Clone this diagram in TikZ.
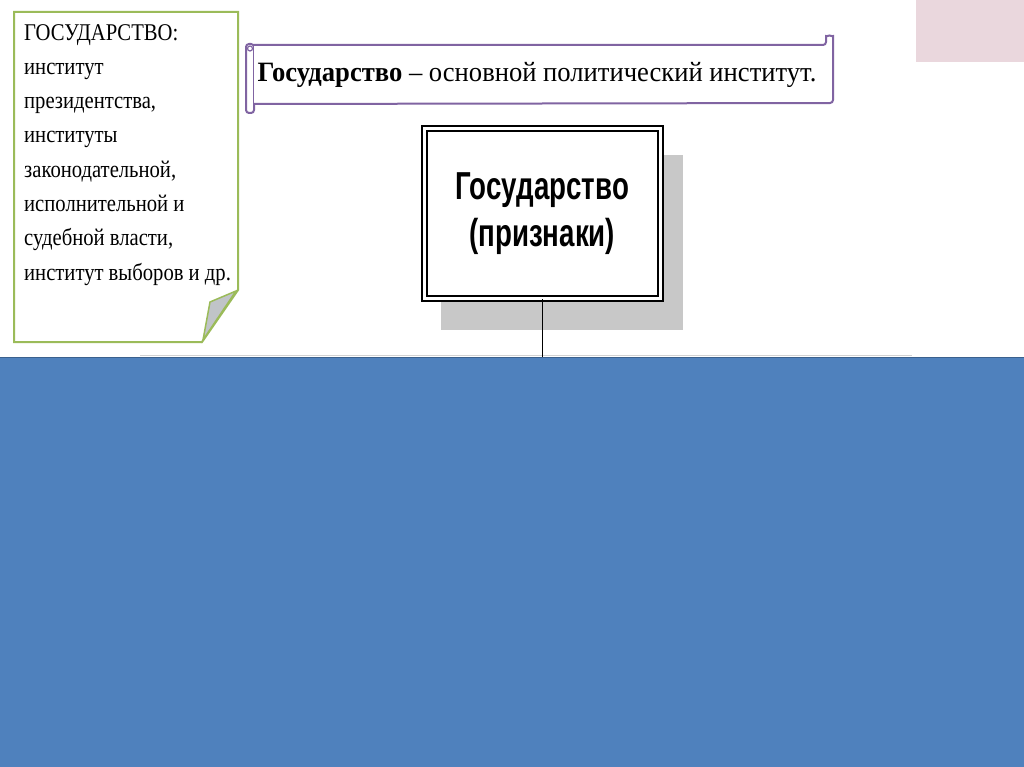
\documentclass[tikz,border=0pt]{standalone}
\usepackage{fontspec}
\setmainfont{Liberation Serif}
\newfontfamily\noteserif[FakeStretch=0.86]{Liberation Serif}
\newfontfamily\scrollserif[FakeStretch=0.95]{Liberation Serif}
\newfontfamily\boxsans[FakeStretch=0.71]{Liberation Sans}
\usetikzlibrary{positioning}
\definecolor{slideblue}{RGB}{79,129,189}
\definecolor{notegreen}{RGB}{155,187,89}
\definecolor{scrollviolet}{RGB}{128,100,162}
\definecolor{foldgray}{RGB}{192,196,200}
\definecolor{cornerpink}{RGB}{234,215,221}
\definecolor{shadowgray}{RGB}{200,200,200}

\begin{document}
\begin{tikzpicture}[x=1pt,y=-1pt,
  scroll/.style={draw=scrollviolet,line width=2pt},
  notetext/.style={align=left,inner sep=0pt,font=\noteserif\fontsize{24}{34.3}\selectfont},
  mainbox/.style={draw,line width=2pt,double,double distance=3pt,fill=white,
    minimum width=235.5pt,minimum height=169.5pt,inner sep=0pt,align=center,
    font=\boxsans\bfseries\fontsize{39}{47}\selectfont}]
\useasboundingbox (0,0) rectangle (1024,767);
\fill[white] (0,0) rectangle (1024,767);

% Pink corner
\fill[cornerpink] (916,0) rectangle (1024,62);

% Note with folded corner
\draw[notegreen,line width=2pt,fill=white]
  (14,12) -- (238,12) -- (238,290) -- (202,342) -- (14,342) -- cycle;
\filldraw[notegreen,fill=foldgray,line width=1.5pt]
  (236,291) -- (210,302) -- (203,340) -- cycle;
\node[notetext,anchor=north west] (notetxt) at (24,24) {%
  ГОСУДАРСТВО:\\
  институт\\
  президентства,\\
  институты\\
  законодательной,\\
  исполнительной и\\
  судебной власти,\\
  институт выборов и др.};

% Scroll banner
\draw[scroll,rounded corners=3pt] (246,44) rectangle (254,113);
\draw[scroll,line width=1.2pt] (250,48.5) circle (2.5);
\draw[scroll,fill=white,rounded corners=3pt]
  (254,45) -- (826,45) -- (826,39) arc[start angle=180,end angle=360,radius=3.5]
  -- (833,103) -- (254,104);
\node[inner sep=0pt,font=\scrollserif\fontsize{28}{30}\selectfont] (banner) at (537,74.5)
  {\textbf{Государство} – основной политический институт.};

% Main box with shadow
\fill[shadowgray] (441,155) rectangle (683,330);
\node[mainbox] (statebox) at (542.25,213.25) {Государство\\(признаки)};

% Blue area
\draw[gray!35] (140,355) -- (912,355);
\fill[slideblue] (0,357) rectangle (1024,767);
\draw[slideblue!75!black,line width=1.5pt] (0,357.5) -- (1024,357.5);
\coordinate (bluetop) at (542.25,357);
\draw[line width=1.5pt] (statebox.south) -- (bluetop);
\end{tikzpicture}
\end{document}
